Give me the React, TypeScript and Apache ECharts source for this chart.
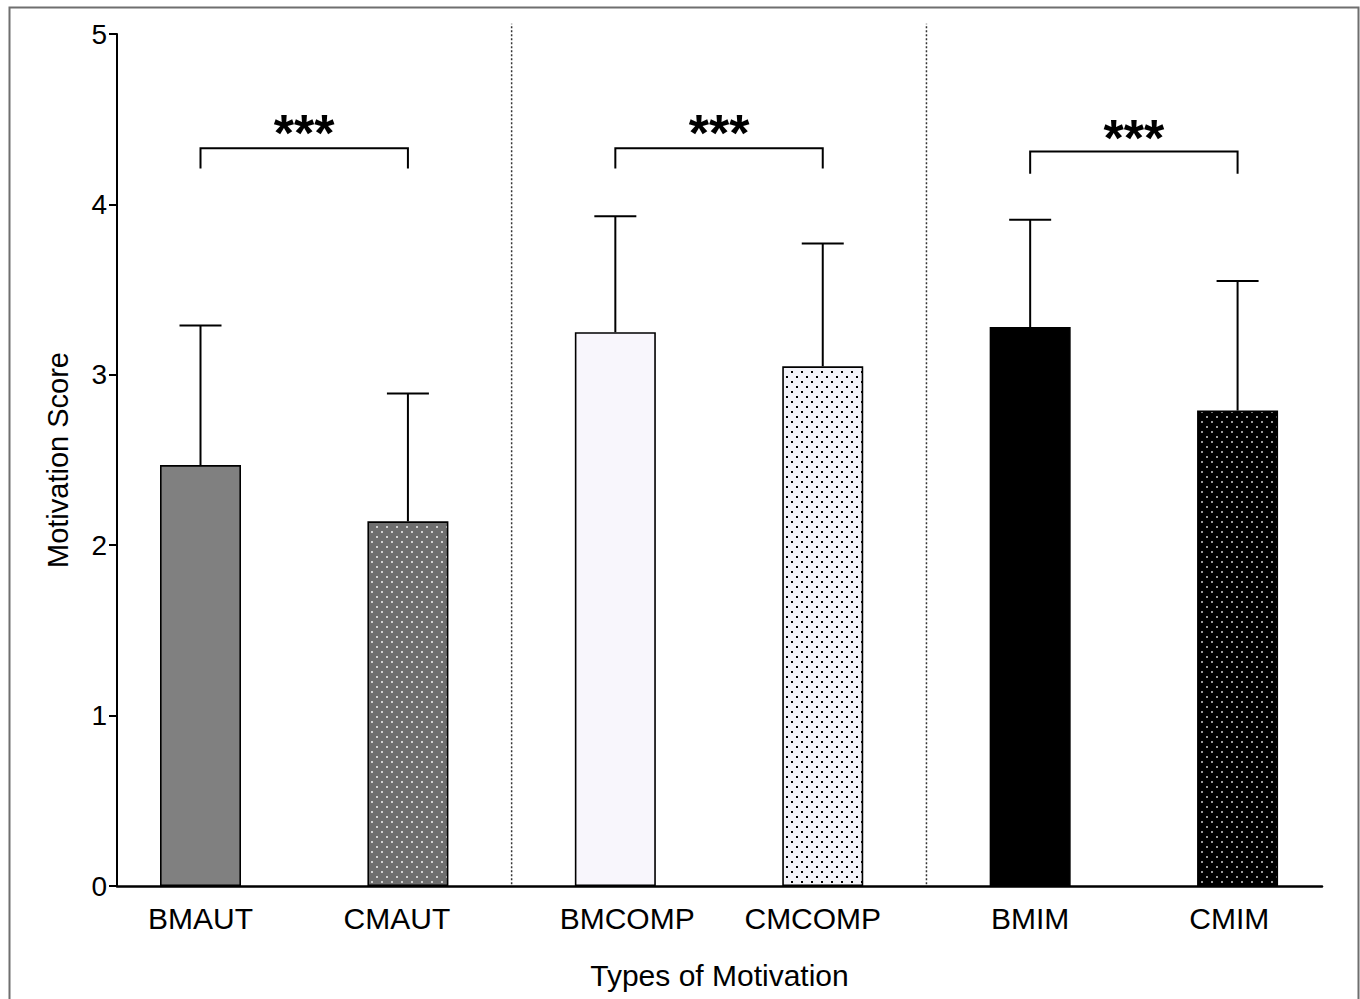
import React, { useEffect, useRef } from "react";
import * as echarts from "echarts";

const categories = ["BMAUT", "CMAUT", "BMCOMP", "CMCOMP", "BMIM", "CMIM"];
const means = [2.47, 2.14, 3.25, 3.05, 3.28, 2.79];
const errTops = [3.29, 2.89, 3.93, 3.77, 3.91, 3.55];
const labelPositions = [0, 0.947, 2.057, 2.952, 4, 4.96];
const separators = [1.5, 3.5];
// bracket: [x1, x2, y, legBottom, starY]
const brackets = [
  [0, 1, 4.33, 4.21, 4.42],
  [2, 3, 4.33, 4.21, 4.42],
  [4, 5, 4.31, 4.18, 4.39],
];
const starText = "***";
const yTicks = [0, 1, 2, 3, 4, 5];

const FONT = "Liberation Sans, Arial, Helvetica, sans-serif";

function makePattern(bg: string, dot: string) {
  const c = document.createElement("canvas");
  c.width = 10;
  c.height = 10;
  const ctx = c.getContext("2d")!;
  ctx.fillStyle = bg;
  ctx.fillRect(0, 0, 10, 10);
  ctx.fillStyle = dot;
  ctx.fillRect(1, 1, 2, 2);
  ctx.fillRect(6, 6, 2, 2);
  return { image: c, repeat: "repeat" } as any;
}

export default function App() {
  const ref = useRef<HTMLDivElement>(null);
  useEffect(() => {
    const chart = echarts.init(ref.current!, undefined, { renderer: "svg" });
    const fills: any[] = [
      "#808080",
      makePattern("#6e6e6e", "#d2d2d2"),
      "#f8f6fc",
      makePattern("#f3f3f9", "#000000"),
      "#000000",
      makePattern("#000000", "#9a9a9a"),
    ];
    const barData = means.map((m, i) => ({
      value: [i, m],
      itemStyle: { color: fills[i], borderColor: "#000", borderWidth: 1.6 },
    }));
    chart.setOption({
      animation: false,
      backgroundColor: "#fff",
      grid: {
        left: 117,
        right: 38,
        top: 34,
        bottom: 113,
        containLabel: false,
        outerBoundsMode: "none",
      },
      graphic: [
        {
          type: "rect",
          left: 7,
          top: 5,
          shape: { width: 1349, height: 1000 },
          style: { fill: "none", stroke: "#6f6f6f", lineWidth: 2 },
          silent: true,
        },
      ],
      xAxis: {
        type: "value",
        min: -0.4026,
        max: 5.407,
        name: "Types of Motivation",
        nameLocation: "middle",
        nameGap: 74,
        nameTextStyle: { fontSize: 30, color: "#000", fontFamily: FONT },
        axisLine: { show: true, onZero: false, lineStyle: { color: "#000", width: 2.5 } },
        axisTick: { show: false },
        splitLine: { show: false },
        axisLabel: {
          customValues: labelPositions,
          fontSize: 30,
          color: "#000",
          fontFamily: FONT,
          margin: 17,
          formatter: (v: number) => {
            let best = 0;
            let d = 1e9;
            labelPositions.forEach((p, i) => {
              if (Math.abs(p - v) < d) {
                d = Math.abs(p - v);
                best = i;
              }
            });
            return categories[best];
          },
        },
      },
      yAxis: {
        type: "value",
        min: 0,
        max: 5,
        interval: 1,
        name: "Motivation Score",
        nameLocation: "middle",
        nameGap: 45,
        nameRotate: 90,
        nameTextStyle: { fontSize: 29, color: "#000", fontFamily: FONT },
        axisLine: { show: true, onZero: false, lineStyle: { color: "#000", width: 2 } },
        axisTick: { show: true, length: 8, lineStyle: { color: "#000", width: 2 } },
        splitLine: { show: false },
        axisLabel: {
          fontSize: 28,
          color: "#000",
          fontFamily: FONT,
          margin: 10,
          formatter: (v: number) => (yTicks.includes(v) ? String(v) : ""),
        },
      },
      series: [
        {
          type: "custom",
          silent: true,
          z: 1,
          clip: false,
          data: separators.map((s) => [s, 0]),
          encode: { x: 0, y: 1 },
          renderItem: (params: any, api: any) => {
            const x = api.value(0);
            const p0 = api.coord([x, 0.01]);
            const p1 = api.coord([x, 5.06]);
            return {
              type: "line",
              shape: { x1: p0[0], y1: p0[1], x2: p1[0], y2: p1[1] },
              style: { stroke: "#333", lineWidth: 1.5, lineDash: [2, 2] },
            };
          },
        },
        {
          type: "bar",
          barWidth: 81,
          z: 2,
          data: barData,
        },
        {
          type: "custom",
          silent: true,
          z: 3,
          clip: false,
          data: means.map((m, i) => [i, m, errTops[i]]),
          encode: { x: 0, y: 1 },
          renderItem: (params: any, api: any) => {
            const x = api.value(0);
            const pb = api.coord([x, api.value(1)]);
            const pt = api.coord([x, api.value(2)]);
            const half = 21;
            return {
              type: "group",
              children: [
                {
                  type: "line",
                  shape: { x1: pb[0], y1: pb[1], x2: pt[0], y2: pt[1] },
                  style: { stroke: "#000", lineWidth: 2 },
                },
                {
                  type: "line",
                  shape: { x1: pt[0] - half, y1: pt[1], x2: pt[0] + half, y2: pt[1] },
                  style: { stroke: "#000", lineWidth: 2 },
                },
              ],
            };
          },
        },
        {
          type: "custom",
          silent: true,
          z: 3,
          clip: false,
          data: brackets,
          encode: { x: 0, y: 2 },
          renderItem: (params: any, api: any) => {
            const a = api.coord([api.value(0), api.value(2)]);
            const b = api.coord([api.value(1), api.value(2)]);
            const la = api.coord([api.value(0), api.value(3)]);
            const s = api.coord([(api.value(0) + api.value(1)) / 2, api.value(4)]);
            return {
              type: "group",
              children: [
                {
                  type: "polyline",
                  shape: {
                    points: [
                      [a[0], la[1]],
                      [a[0], a[1]],
                      [b[0], b[1]],
                      [b[0], la[1]],
                    ],
                  },
                  style: { stroke: "#000", lineWidth: 2, fill: "none" },
                },
                {
                  type: "text",
                  x: s[0],
                  y: s[1],
                  style: {
                    text: starText,
                    fontSize: 52,
                    fontWeight: "bold",
                    fontFamily: FONT,
                    fill: "#000",
                    align: "center",
                    verticalAlign: "middle",
                  },
                },
              ],
            };
          },
        },
      ],
    });
    return () => chart.dispose();
  }, []);
  return (
    <div
      ref={ref}
      style={{ position: "fixed", left: 0, top: 0, width: 1360, height: 999 }}
    />
  );
}
